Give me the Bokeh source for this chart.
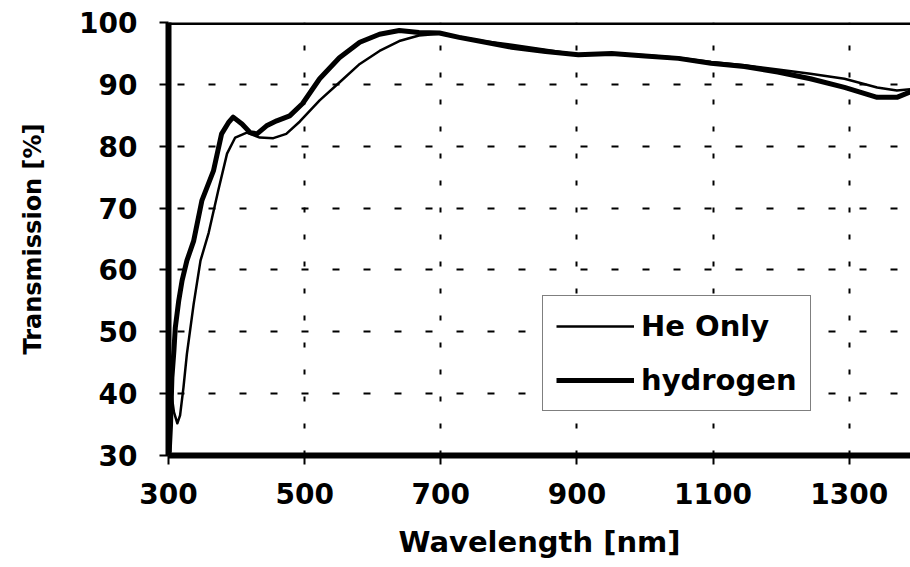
from bokeh.plotting import figure
from bokeh.models import Range1d, Span, Legend, LegendItem
from bokeh.embed import file_html
from bokeh.resources import INLINE

# Transmission spectra (wavelength in nm, transmission in %)
wl_he = [303, 308, 313, 317, 322, 327, 337, 347, 359, 373, 386, 398, 415, 434,
         454, 473, 493, 522, 551, 581, 610, 639, 668, 698, 727, 756, 804, 854,
         902, 951, 1000, 1049, 1097, 1146, 1195, 1243, 1293, 1341, 1370, 1390]
t_he = [41.0, 37.0, 35.2, 36.5, 41.0, 46.4, 54.5, 61.5, 66.0, 72.8, 78.8, 81.4,
        82.2, 81.4, 81.3, 82.0, 84.0, 87.4, 90.3, 93.3, 95.4, 97.0, 97.9, 98.2,
        97.7, 97.1, 96.4, 95.6, 94.8, 95.0, 94.7, 94.3, 93.6, 93.1, 92.4, 91.7,
        90.9, 89.5, 89.0, 89.2]

wl_h2 = [301, 303, 305, 308, 310, 315, 320, 327, 337, 349, 366, 378, 388, 395,
         408, 420, 430, 444, 459, 478, 497, 522, 551, 581, 610, 639, 668, 698,
         727, 756, 804, 854, 902, 951, 1000, 1049, 1097, 1146, 1195, 1243, 1293,
         1341, 1370, 1390]
t_h2 = [30.5, 35.0, 42.6, 47.0, 50.7, 55.0, 58.3, 61.5, 64.7, 71.2, 76.0, 82.0,
        83.8, 84.7, 83.6, 82.2, 82.0, 83.3, 84.1, 84.9, 86.9, 90.9, 94.3, 96.8,
        98.1, 98.7, 98.4, 98.3, 97.6, 97.0, 96.0, 95.3, 94.8, 95.0, 94.6, 94.2,
        93.4, 92.9, 92.0, 90.9, 89.5, 87.9, 87.9, 88.8]

x_ticks = [300, 500, 700, 900, 1100, 1300]
y_ticks = [30, 40, 50, 60, 70, 80, 90, 100]

FONT = "DejaVu Sans"

p = figure(width=910, height=567, x_range=Range1d(300, 1390), y_range=Range1d(30, 100),
           output_backend="svg", toolbar_location=None,
           min_border_left=168, min_border_right=0, min_border_top=22, min_border_bottom=112)
p.outline_line_color = None
p.background_fill_color = "white"
p.border_fill_color = "white"

# axes
for ax in (p.xaxis[0], p.yaxis[0]):
    ax.axis_line_width = 6
    ax.axis_line_color = "black"
    ax.major_tick_line_color = "black"
    ax.major_tick_line_width = 2
    ax.minor_tick_line_color = "black"
    ax.minor_tick_line_width = 2
    ax.major_tick_in = 0
    ax.major_tick_out = 9
    ax.minor_tick_in = 5
    ax.minor_tick_out = 0
    ax.major_label_text_font = FONT
    ax.major_label_text_font_style = "bold"
    ax.major_label_text_font_size = "28px"
    ax.major_label_text_color = "black"
    ax.axis_label_text_font = FONT
    ax.axis_label_text_font_style = "bold"
    ax.axis_label_text_color = "black"

p.xaxis.ticker = x_ticks
p.yaxis.ticker = y_ticks
p.xaxis[0].ticker.num_minor_ticks = 4
p.yaxis[0].ticker.num_minor_ticks = 5
p.xaxis.axis_label = "Wavelength [nm]"
p.yaxis.axis_label = "Transmission [%]"
p.xaxis.axis_label_text_font_size = "29px"
p.yaxis.axis_label_text_font_size = "24px"
p.xaxis.major_label_standoff = 18
p.yaxis.major_label_standoff = 22
p.xaxis.axis_label_standoff = 18
p.yaxis.axis_label_standoff = 29

# dashed grid
p.xgrid.ticker = x_ticks
p.ygrid.ticker = y_ticks
p.xgrid.grid_line_color = "black"
p.xgrid.grid_line_width = 2
p.xgrid.grid_line_dash = "5 22"
p.ygrid.grid_line_color = "black"
p.ygrid.grid_line_width = 2
p.ygrid.grid_line_dash = "7 24"
p.ygrid.grid_line_dash_offset = 22

# top frame line
p.add_layout(Span(location=100, dimension="width", line_color="black", line_width=5))

r_he = p.line(wl_he, t_he, line_color="black", line_width=2.5, line_join="round")
r_h2 = p.line(wl_h2, t_h2, line_color="black", line_width=5, line_join="round")

legend = Legend(items=[LegendItem(label="He Only", renderers=[r_he]),
                       LegendItem(label="hydrogen", renderers=[r_h2])],
                location=(374, 44))
legend.label_text_font = FONT
legend.label_text_font_style = "bold"
legend.label_text_font_size = "29px"
legend.label_text_color = "black"
legend.glyph_width = 78
legend.glyph_height = 30
legend.label_standoff = 7
legend.padding = 13
legend.spacing = 20
legend.margin = 0
legend.border_line_color = "black"
legend.border_line_width = 1.5
legend.background_fill_color = "white"
legend.background_fill_alpha = 1.0
p.add_layout(legend)

open("out.html", "w").write(file_html(p, INLINE))
